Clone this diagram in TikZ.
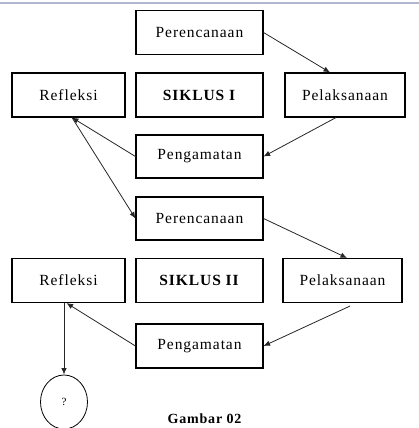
\documentclass[tikz,border=0pt]{standalone}
\usepackage{fontspec}
\setmainfont{Liberation Serif}
\usepackage{xcolor}
\usepackage{tikz}
\usetikzlibrary{arrows,arrows.meta,positioning,shapes,calc}
\definecolor{topline}{RGB}{178,182,208}

\begin{document}
\begin{tikzpicture}[x=1pt,y=-1pt,
    kotak/.style={draw,line width=1.1pt,minimum height=44pt,inner sep=0pt,
      font=\fontsize{15.5}{18}\selectfont\addfontfeature{LetterSpace=6}},
    tengah/.style={kotak,minimum width=127pt},
    panah/.style={-{Latex[length=6.5pt,width=5.5pt]},line width=0.8pt,draw=black!85}]
  \clip (0,0) rectangle (419,428);
  \draw [topline,line width=1.5pt] (0,3) -- (419,3);

  % Siklus I
  \node (per1) [tengah] at (199.5,32.5) {Perencanaan};
  \node (ref1) [kotak,minimum width=113pt] at (68.5,95) {Refleksi};
  \node (sik1) [tengah] at (199.5,95) {\textbf{SIKLUS I}};
  \node (pel1) [kotak,minimum width=120pt] at (345,95) {Pelaksanaan};
  \node (pen1) [tengah,minimum height=43pt] at (199.5,156.5) {Pengamatan};

  % Siklus II
  \node (per2) [tengah,minimum height=43pt] at (199.5,218.5) {Perencanaan};
  \node (ref2) [kotak,minimum width=113pt] at (68.5,280.5) {Refleksi};
  \node (sik2) [tengah] at (199.5,280.5) {\textbf{SIKLUS II}};
  \node (pel2) [kotak,minimum width=119pt] at (342.5,280.5) {Pelaksanaan};
  \node (pen2) [tengah] at (199.5,346) {Pengamatan};

  \node (tanya) [ellipse,draw,line width=0.8pt,minimum width=47pt,minimum height=54pt,
    font=\fontsize{11}{13}\selectfont] at (64,402) {?};
  \node (gambar) [anchor=base,font=\fontsize{14}{16}\selectfont\bfseries\addfontfeature{LetterSpace=6}]
    at (204.5,423) {Gambar 02};

  \draw [panah] (per1.east) -- ([xshift=-15pt]pel1.north);
  \draw [panah] ([xshift=-9pt]pel1.south) -- (pen1.east);
  \draw [panah] (pen1.west) -- ([xshift=3.5pt]ref1.south);
  \draw [panah] ([xshift=3.5pt]ref1.south) -- (per2.west);

  \draw [panah] (per2.east) -- ([xshift=4.5pt]pel2.north);
  \draw [panah] ([xshift=7.5pt,yshift=-3pt]pel2.south) -- (pen2.east);
  \draw [panah] (pen2.west) -- ([xshift=-2pt]ref2.south);
  \draw [panah] ([xshift=-4.5pt]ref2.south) -- (tanya.north);
\end{tikzpicture}
\end{document}
